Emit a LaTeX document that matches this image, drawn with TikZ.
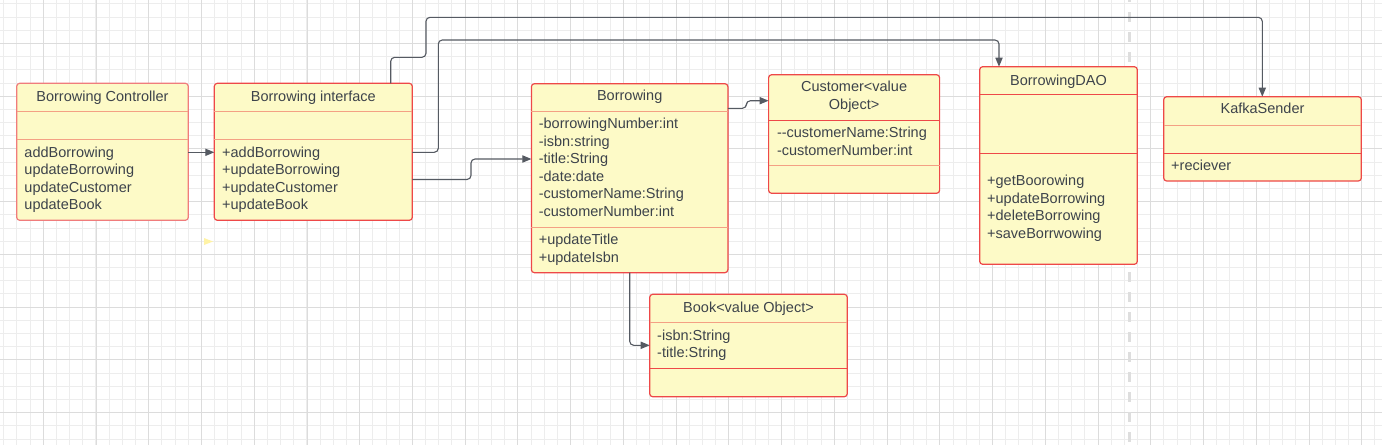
\documentclass[tikz,border=0pt]{standalone}
\usepackage{fontspec}
\setmainfont{Liberation Sans}
\usetikzlibrary{arrows.meta}
\definecolor{boxfill}{HTML}{FDFAC7}
\definecolor{redline}{HTML}{EE4848}
\definecolor{pinkline}{HTML}{F07C7C}
\definecolor{salmon}{HTML}{F4A084}
\definecolor{txtcol}{HTML}{3D434B}
\definecolor{conncol}{HTML}{555A62}
\definecolor{minorg}{HTML}{EDEDED}
\definecolor{majorg}{HTML}{DCDCDC}
\definecolor{dashg}{HTML}{DEDEDE}
\definecolor{paleyellow}{HTML}{FFF3A6}
\begin{document}
\begin{tikzpicture}[x=0.5pt,y=-0.5pt,
  umlbox/.style={draw=#1, fill=boxfill, rounded corners=1.5pt, line width=0.6pt,
    inner sep=0pt, outer sep=0pt, anchor=north west},
  divider/.style={draw=#1, line width=0.6pt},
  txt/.style={text=txtcol, font=\fontsize{7.25}{8.75}\selectfont, inner sep=0pt, outer sep=0pt},
  titletxt/.style={txt, anchor=base},
  listtxt/.style={txt, anchor=north west, align=left},
  conn/.style={draw=conncol, line width=0.55pt, rounded corners=2pt},
  arr/.style={-{Triangle[length=4.5pt,width=3.6pt]}},
  minorgrid/.style={draw=minorg, line width=0.5pt},
  majorgrid/.style={draw=majorg, line width=0.5pt}]
\useasboundingbox (0,0) rectangle (1382,445);
\fill[white] (0,0) rectangle (1382,445);
\begin{scope}
\clip (0,0) rectangle (1382,445);
\foreach \i in {0,...,104} \draw[minorgrid] ({3.7+13.185*\i},0) -- ({3.7+13.185*\i},445);
\foreach \i in {0,...,33} \draw[minorgrid] (0,{3.9+13.185*\i}) -- (1382,{3.9+13.185*\i});
\foreach \i in {0,...,25} \draw[majorgrid] ({43.3+52.74*\i},0) -- ({43.3+52.74*\i},445);
\foreach \i in {0,...,7} \draw[majorgrid] (0,{43.5+52.74*\i}) -- (1382,{43.5+52.74*\i});
\draw[dashg, line width=1.5pt, dash pattern=on 5pt off 5pt] (1129.3,-7.7) -- (1129.3,450);
\end{scope}

% small yellow marker
\fill[paleyellow] (204,238) -- (213,241.5) -- (204,245) -- cycle;

% boxes
\node[umlbox=pinkline, minimum width={(188.3-16.7)*0.5pt}, minimum height={(220.3-83.3)*0.5pt}] (ctrl) at (16.7,83.3) {};
\draw[divider=salmon] (ctrl.west |- 0,111.3) -- (ctrl.east |- 0,111.3);
\draw[divider=salmon] (ctrl.west |- 0,139.7) -- (ctrl.east |- 0,139.7);

\node[umlbox=redline, minimum width={(412.3-214.3)*0.5pt}, minimum height={(220.3-83.3)*0.5pt}] (iface) at (214.3,83.3) {};
\draw[divider=salmon] (iface.west |- 0,111.3) -- (iface.east |- 0,111.3);
\draw[divider=salmon] (iface.west |- 0,139.7) -- (iface.east |- 0,139.7);

\node[umlbox=redline, minimum width={(727.9-531.4)*0.5pt}, minimum height={(272.7-83.7)*0.5pt}] (borrow) at (531.4,83.7) {};
\draw[divider=salmon] (borrow.west |- 0,111.7) -- (borrow.east |- 0,111.7);
\draw[divider=salmon] (borrow.west |- 0,227.3) -- (borrow.east |- 0,227.3);

\node[umlbox=redline, minimum width={(939.6-768.6)*0.5pt}, minimum height={(193.3-74.7)*0.5pt}] (cust) at (768.6,74.7) {};
\draw[divider=redline] (cust.west |- 0,120.7) -- (cust.east |- 0,120.7);
\draw[divider=salmon] (cust.west |- 0,165.7) -- (cust.east |- 0,165.7);

\node[umlbox=redline, minimum width={(1137.3-979.7)*0.5pt}, minimum height={(264.3-66.7)*0.5pt}] (dao) at (979.7,66.7) {};
\draw[divider=redline] (dao.west |- 0,94.3) -- (dao.east |- 0,94.3);
\draw[divider=redline] (dao.west |- 0,153.3) -- (dao.east |- 0,153.3);

\node[umlbox=redline, minimum width={(1361.3-1163.7)*0.5pt}, minimum height={(181-96.7)*0.5pt}] (kafka) at (1163.7,96.7) {};
\draw[divider=salmon] (kafka.west |- 0,125.3) -- (kafka.east |- 0,125.3);
\draw[divider=redline] (kafka.west |- 0,153.3) -- (kafka.east |- 0,153.3);

\node[umlbox=redline, minimum width={(847.3-649.7)*0.5pt}, minimum height={(396.7-294.3)*0.5pt}] (book) at (649.7,294.3) {};
\draw[divider=salmon] (book.west |- 0,322.3) -- (book.east |- 0,322.3);
\draw[divider=redline] (book.west |- 0,368.3) -- (book.east |- 0,368.3);

% texts
\node[titletxt] (ctrlT) at (102.5,101) {Borrowing Controller};
\node[listtxt] (ctrlO) at (24.5,145) {\strut addBorrowing\\\strut updateBorrowing\\\strut updateCustomer\\\strut updateBook};

\node[titletxt] (ifaceT) at (313.3,101) {Borrowing interface};
\node[listtxt] (ifaceO) at (222.2,145) {\strut +addBorrowing\\\strut +updateBorrowing\\\strut +updateCustomer\\\strut +updateBook};

\node[titletxt] (borrowT) at (629.7,100.7) {Borrowing};
\node[listtxt] (borrowA) at (538.8,116.4) {\strut -borrowingNumber:int\\\strut -isbn:string\\\strut -title:String\\\strut -date:date\\\strut -customerName:String\\\strut -customerNumber:int};
\node[listtxt] (borrowO) at (538.8,232.7) {\strut +updateTitle\\\strut +updateIsbn};

\node[txt, anchor=north, align=center] (custT) at (854.1,79.4) {\strut Customer<value\\\strut Object>};
\node[listtxt] (custA) at (777,125.4) {\strut -{}-customerName:String\\\strut -customerNumber:int};

\node[titletxt] (daoT) at (1058.5,85) {BorrowingDAO};
\node[listtxt] (daoO) at (987.2,173.7) {\strut +getBoorowing\\\strut +updateBorrowing\\\strut +deleteBorrowing\\\strut +saveBorrwowing};

\node[titletxt] (kafkaT) at (1262.5,113.7) {KafkaSender};
\node[listtxt] (kafkaO) at (1171.2,158.4) {\strut +reciever};

\node[titletxt] (bookT) at (748.5,312) {Book<value Object>};
\node[listtxt] (bookA) at (657.2,328) {\strut -isbn:String\\\strut -title:String};

% connectors
\draw[conn, arr] (ctrl.east |- 0,152.3) -- (iface.west |- 0,152.3);
\draw[conn, arr] (iface.east |- 0,179.5) -- (471,179.5) -- (471,159) -- (borrow.west |- 0,159);
\draw[conn, arr] (iface.east |- 0,152.3) -- (438.3,152.3) -- (438.3,40) -- (999,40) -- (999,0 |- dao.north);
\draw[conn, arr] (390.7,0 |- iface.north) -- (390.7,57.3) -- (426,57.3) -- (426,17.3) -- (1262.3,17.3) -- (1262.3,0 |- kafka.north);
\draw[conn, arr] (borrow.east |- 0,108.3) -- (746.4,108.3) -- (746.4,100.7) -- (cust.west |- 0,100.7);
\draw[conn, arr] (629.7,0 |- borrow.south) -- (629.7,345.3) -- (book.west |- 0,345.3);
\end{tikzpicture}
\end{document}
